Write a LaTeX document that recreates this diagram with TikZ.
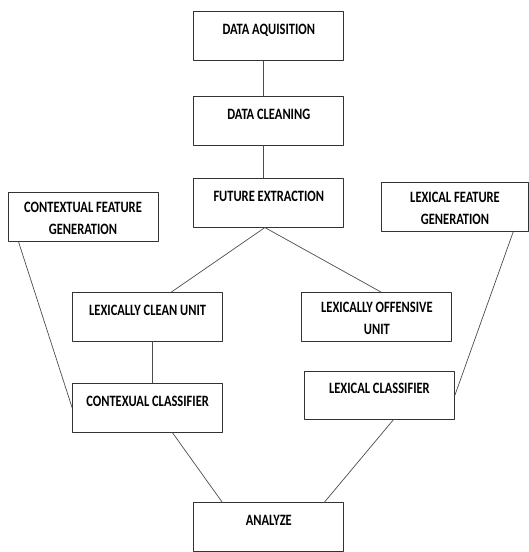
\documentclass[tikz,border=0pt]{standalone}
\usepackage{fontspec}
\newfontfamily\boxfont{Carlito Bold}[FakeStretch=0.79]
\begin{document}
\begin{tikzpicture}[x=1pt,y=-1pt,line join=round,line cap=round,
  unit/.style={draw=black!80,line width=0.9pt,minimum width=150pt,minimum height=48.6pt,inner sep=0pt},
  ttl/.style={anchor=north,inner sep=0pt,yshift=-12.5pt,align=center,font=\boxfont\fontsize{15.8}{22}\selectfont},
  ttltwo/.style={ttl,yshift=2.5pt},
  link/.style={draw=black!70,line width=0.7pt}]
\useasboundingbox (0,0) rectangle (529,552);
% middle column
\node[unit,label={[ttl]north:DATA AQUISITION}] (acq) at (268.8,36) {};
\node[unit,label={[ttl]north:DATA CLEANING}] (clean) at (268.8,121) {};
\node[unit,label={[ttl]north:FUTURE EXTRACTION}] (fext) at (268.8,202.8) {};
% feature generation
\node[unit,label={[ttltwo]north:CONTEXTUAL FEATURE\\GENERATION}] (cfg) at (83,217) {};
\node[unit,minimum width=147pt,label={[ttltwo]north:LEXICAL FEATURE\\GENERATION}] (lfg) at (455,206.8) {};
% units and classifiers
\node[unit,label={[ttl]north:LEXICALLY CLEAN UNIT}] (lcu) at (147.6,316.7) {};
\node[unit,label={[ttltwo]north:LEXICALLY OFFENSIVE\\UNIT}] (lou) at (376.9,316.7) {};
\node[unit,label={[ttl]north:CONTEXUAL CLASSIFIER}] (cc) at (147.6,407.8) {};
\node[unit,label={[ttl]north:LEXICAL CLASSIFIER}] (lc) at (379.4,395.3) {};
\node[unit,label={[ttl]north:ANALYZE}] (ana) at (268.8,527) {};
% connectors
\foreach \a/\b in {acq.258/clean.102, clean.258/fext.102, fext.261/lcu.46, fext.261/lou.81,
  cfg.201/cc.west, lcu.281/cc.79, lfg.337/lc.east, cc.315/ana.152, lc.299/ana.24}
  \draw[link] (\a) -- (\b);
\end{tikzpicture}
\end{document}
